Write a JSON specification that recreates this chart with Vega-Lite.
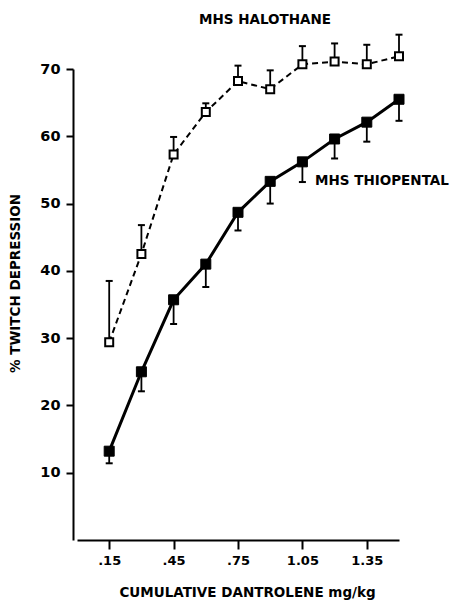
{
  "$schema": "https://vega.github.io/schema/vega-lite/v6.json",
  "autosize": "none",
  "width": 322,
  "height": 471,
  "padding": {"left": 77, "top": 69, "right": 58, "bottom": 61},
  "background": "white",
  "config": {
    "view": {"stroke": null},
    "font": "DejaVu Sans",
    "axis": {"grid": false, "domainColor": "black", "tickColor": "black", "labelColor": "black", "titleColor": "black", "domainWidth": 2, "tickWidth": 2, "labelFont": "DejaVu Sans", "labelFontWeight": "bold", "titleFont": "DejaVu Sans", "titleFontWeight": "bold"}
  },
  "datasets": {
    "pts": [
      {"dose": 0.15, "value": 29.4, "bar_end": 38.5, "drug": "MHS HALOTHANE"},
      {"dose": 0.30, "value": 42.5, "bar_end": 46.8, "drug": "MHS HALOTHANE"},
      {"dose": 0.45, "value": 57.3, "bar_end": 59.9, "drug": "MHS HALOTHANE"},
      {"dose": 0.60, "value": 63.6, "bar_end": 64.9, "drug": "MHS HALOTHANE"},
      {"dose": 0.75, "value": 68.2, "bar_end": 70.5, "drug": "MHS HALOTHANE"},
      {"dose": 0.90, "value": 67.0, "bar_end": 69.8, "drug": "MHS HALOTHANE"},
      {"dose": 1.05, "value": 70.7, "bar_end": 73.4, "drug": "MHS HALOTHANE"},
      {"dose": 1.20, "value": 71.1, "bar_end": 73.8, "drug": "MHS HALOTHANE"},
      {"dose": 1.35, "value": 70.7, "bar_end": 73.6, "drug": "MHS HALOTHANE"},
      {"dose": 1.50, "value": 71.9, "bar_end": 75.1, "drug": "MHS HALOTHANE"},
      {"dose": 0.15, "value": 13.2, "bar_end": 11.4, "drug": "MHS THIOPENTAL"},
      {"dose": 0.30, "value": 25.0, "bar_end": 22.1, "drug": "MHS THIOPENTAL"},
      {"dose": 0.45, "value": 35.7, "bar_end": 32.1, "drug": "MHS THIOPENTAL"},
      {"dose": 0.60, "value": 41.0, "bar_end": 37.6, "drug": "MHS THIOPENTAL"},
      {"dose": 0.75, "value": 48.7, "bar_end": 46.0, "drug": "MHS THIOPENTAL"},
      {"dose": 0.90, "value": 53.3, "bar_end": 50.0, "drug": "MHS THIOPENTAL"},
      {"dose": 1.05, "value": 56.2, "bar_end": 53.2, "drug": "MHS THIOPENTAL"},
      {"dose": 1.20, "value": 59.6, "bar_end": 56.7, "drug": "MHS THIOPENTAL"},
      {"dose": 1.35, "value": 62.1, "bar_end": 59.2, "drug": "MHS THIOPENTAL"},
      {"dose": 1.50, "value": 65.5, "bar_end": 62.3, "drug": "MHS THIOPENTAL"}
    ],
    "labels": [
      {"dose": 0.876, "value": 77.3, "text": "MHS HALOTHANE", "align": "center"},
      {"dose": 1.109, "value": 53.3, "text": "MHS THIOPENTAL", "align": "left"}
    ]
  },
  "layer": [
    {
      "data": {"name": "pts"},
      "transform": [{"filter": "datum.drug === 'MHS HALOTHANE'"}],
      "mark": {"type": "line", "color": "black", "strokeWidth": 2, "strokeDash": [6, 4]},
      "encoding": {
        "x": {"field": "dose", "type": "quantitative", "scale": {"domain": [0, 1.5], "nice": false, "zero": false},
          "axis": {"values": [0.15, 0.3, 0.45, 0.6, 0.75, 0.9, 1.05, 1.2, 1.35, 1.5], "tickSize": 9, "labelPadding": 5, "labelFontSize": 13,
            "labelExpr": "indexof([0.15,0.45,0.75,1.05,1.35], round(datum.value*100)/100) >= 0 ? (datum.value < 1 ? substring(format(datum.value,'.2f'),1) : format(datum.value,'.2f')) : ''",
            "title": "CUMULATIVE DANTROLENE mg/kg", "titleFontSize": 13.5, "titleX": 170, "titleY": 52, "titleAnchor": "middle", "titleAlign": "center", "titleBaseline": "middle"}},
        "y": {"field": "value", "type": "quantitative", "scale": {"domain": [0, 70], "nice": false},
          "axis": {"values": [10, 20, 30, 40, 50, 60, 70], "tickSize": 7, "labelPadding": 6, "labelFontSize": 14.5, "offset": 4,
            "title": "% TWITCH DEPRESSION", "titleFontSize": 13.5, "titleAngle": -90, "titleX": -58, "titleY": 214, "titleAlign": "center", "titleBaseline": "middle"}}
      }
    },
    {
      "data": {"name": "pts"},
      "transform": [{"filter": "datum.drug === 'MHS THIOPENTAL'"}],
      "mark": {"type": "line", "color": "black", "strokeWidth": 3},
      "encoding": {
        "x": {"field": "dose", "type": "quantitative"},
        "y": {"field": "value", "type": "quantitative"}
      }
    },
    {
      "data": {"name": "pts"},
      "mark": {"type": "rule", "color": "black", "strokeWidth": 1.8},
      "encoding": {
        "x": {"field": "dose", "type": "quantitative"},
        "y": {"field": "value", "type": "quantitative"},
        "y2": {"field": "bar_end"}
      }
    },
    {
      "data": {"name": "pts"},
      "mark": {"type": "point", "shape": "M -1 0 L 1 0", "size": 49, "stroke": "black", "strokeWidth": 2, "filled": false, "opacity": 1},
      "encoding": {
        "x": {"field": "dose", "type": "quantitative"},
        "y": {"field": "bar_end", "type": "quantitative"}
      }
    },
    {
      "data": {"name": "pts"},
      "transform": [{"filter": "datum.drug === 'MHS HALOTHANE'"}],
      "mark": {"type": "point", "shape": "square", "size": 64, "fill": "white", "stroke": "black", "strokeWidth": 2, "filled": true, "opacity": 1},
      "encoding": {
        "x": {"field": "dose", "type": "quantitative"},
        "y": {"field": "value", "type": "quantitative"}
      }
    },
    {
      "data": {"name": "pts"},
      "transform": [{"filter": "datum.drug === 'MHS THIOPENTAL'"}],
      "mark": {"type": "point", "shape": "square", "size": 100, "fill": "black", "stroke": "black", "strokeWidth": 1, "filled": true, "opacity": 1},
      "encoding": {
        "x": {"field": "dose", "type": "quantitative"},
        "y": {"field": "value", "type": "quantitative"}
      }
    },
    {
      "data": {"name": "labels"},
      "transform": [{"filter": "datum.align === 'center'"}],
      "mark": {"type": "text", "font": "DejaVu Sans", "fontWeight": "bold", "fontSize": 13.5, "color": "black", "baseline": "middle", "align": "center"},
      "encoding": {
        "x": {"field": "dose", "type": "quantitative"},
        "y": {"field": "value", "type": "quantitative"},
        "text": {"field": "text"}
      }
    },
    {
      "data": {"name": "labels"},
      "transform": [{"filter": "datum.align === 'left'"}],
      "mark": {"type": "text", "font": "DejaVu Sans", "fontWeight": "bold", "fontSize": 13.5, "color": "black", "baseline": "middle", "align": "left"},
      "encoding": {
        "x": {"field": "dose", "type": "quantitative"},
        "y": {"field": "value", "type": "quantitative"},
        "text": {"field": "text"}
      }
    }
  ]
}
